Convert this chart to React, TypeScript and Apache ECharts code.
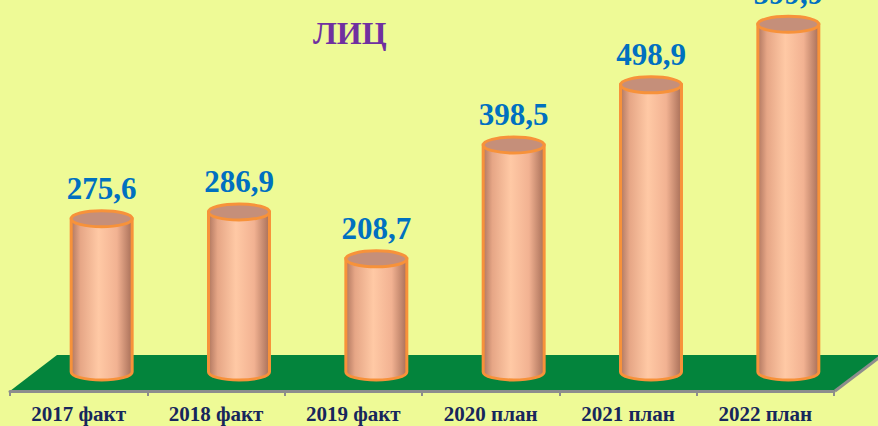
import React, { useEffect, useRef } from 'react';
import * as echarts from 'echarts';

const categories = ['2017 факт', '2018 факт', '2019 факт', '2020 план', '2021 план', '2022 план'];
const values = [275.6, 286.9, 208.7, 398.5, 498.9, 599.9];
const valueLabels = ['275,6', '286,9', '208,7', '398,5', '498,9', '599,9'];
const titleText = 'ЛИЦ';

const Y_MIN = 20;
const Y_MAX = 672;
const DEPTH_DX = 23;
const DEPTH_DY = -19;

export default function App() {
  const ref = useRef<HTMLDivElement>(null);
  useEffect(() => {
    const chart = echarts.init(ref.current as HTMLDivElement, null, { renderer: 'svg' });
    const bodyFill = {
      type: 'linear', x: 0, y: 0, x2: 1, y2: 0,
      colorStops: [
        { offset: 0, color: '#B07760' },
        { offset: 0.15, color: '#E6A686' },
        { offset: 0.45, color: '#FFC9A5' },
        { offset: 0.75, color: '#F2B292' },
        { offset: 1, color: '#A86F58' },
      ],
    };
    const renderItem = (params: any, api: any) => {
      const idx = api.value(0);
      const v = api.value(1);
      const top = api.coord([idx, v]);
      const base = api.coord([idx, Y_MIN]);
      const band = api.size([1, 0])[0];
      const rx = band * 0.222;
      const ry = 8;
      const cx = top[0] + DEPTH_DX;
      const ty = top[1] + DEPTH_DY;
      const by = base[1] + DEPTH_DY;
      const bodyD = `M${cx - rx} ${ty} L${cx - rx} ${by} A${rx} ${ry} 0 0 0 ${cx + rx} ${by} L${cx + rx} ${ty} Z`;
      const topD = `M${cx - rx} ${ty} A${rx} ${ry} 0 1 0 ${cx + rx} ${ty} A${rx} ${ry} 0 1 0 ${cx - rx} ${ty} Z`;
      return {
        type: 'group',
        children: [
          { type: 'path', shape: { pathData: bodyD }, style: { fill: bodyFill, stroke: '#F7923A', lineWidth: 3 } },
          { type: 'path', shape: { pathData: topD }, style: { fill: '#C58F7A', stroke: '#F7923A', lineWidth: 3 } },
          {
            type: 'text',
            style: {
              text: valueLabels[idx], x: cx, y: ty - ry - 7, align: 'center', verticalAlign: 'bottom',
              fill: '#0070C0', fontSize: 31, fontWeight: 'bold', fontFamily: '"Liberation Serif", serif',
            },
          },
        ],
      };
    };
    chart.setOption({
      animation: false,
      backgroundColor: '#EEFA96',
      title: {
        text: titleText, left: 308, top: 12,
        textStyle: { color: '#7030A0', fontSize: 32, fontWeight: 'bold', fontFamily: '"Liberation Serif", serif' },
      },
      grid: { left: 10, right: 44, top: 0, bottom: 35, containLabel: false },
      xAxis: {
        type: 'category', data: categories, z: 3,
        axisLine: { show: true, lineStyle: { color: '#8D8D8D', width: 3 } },
        axisTick: { show: true, length: 5, lineStyle: { color: '#8D8D8D', width: 2 } },
        axisLabel: { color: '#17265C', fontSize: 21, fontWeight: 'bold', fontFamily: '"Liberation Serif", serif', margin: 12, interval: 0 },
      },
      yAxis: { type: 'value', min: Y_MIN, max: Y_MAX, show: false, splitLine: { show: false } },
      graphic: [
        { type: 'polygon', z: 0, shape: { points: [[10, 391], [57, 355], [882, 355], [835, 391]] }, style: { fill: '#03843C' } },
        { type: 'line', z: 1, shape: { x1: 835, y1: 391, x2: 881, y2: 356 }, style: { stroke: '#8D8D8D', lineWidth: 3 } },
      ],
      series: [
        {
          type: 'custom', renderItem, z: 5,
          encode: { x: 0, y: 1 },
          data: values.map((v, i) => [i, v]),
        },
      ],
    });
    return () => chart.dispose();
  }, []);
  return <div ref={ref} style={{ position: 'fixed', left: 0, top: 0, width: 878, height: 426 }} />;
}
